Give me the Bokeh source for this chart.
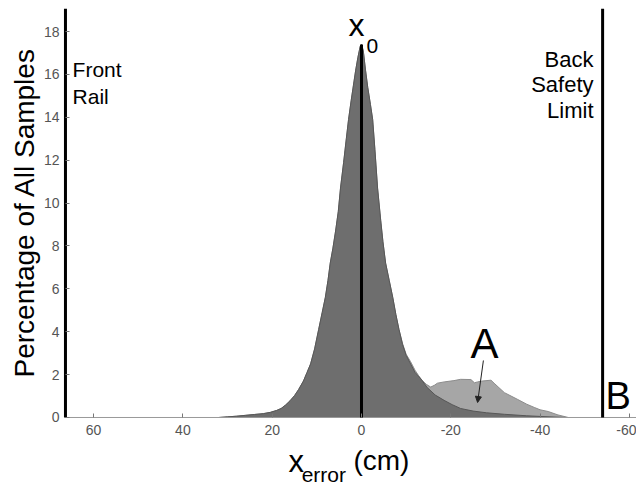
import math
from bokeh.plotting import figure
from bokeh.models import Range1d, Label, Arrow, NormalHead, FixedTicker
from bokeh.embed import file_html
from bokeh.resources import INLINE

# ---- data ----
x_dark = [32, 30, 28, 26, 24, 22, 20.4, 19, 18, 17, 16, 15, 14.1, 13, 12.2, 11.4, 10.5,
          9.6, 8.8, 8.1, 7.5, 7.0, 6.4, 5.8, 5.2, 4.7, 4.0, 3.4, 2.9, 2.3, 1.8, 1.3, 0.8,
          0.3, 0.0, -0.4, -0.9, -1.4, -2.0, -2.5, -3.0, -3.6, -4.3, -4.8, -5.4, -6.2,
          -7.0, -7.7, -8.4, -9.2, -10.0, -11.0, -12.0, -13.3, -14.7, -16.5, -18.5,
          -20.3, -22.2, -25, -28, -32, -37, -42, -46]
pct_dark = [0, 0.03, 0.06, 0.1, 0.14, 0.18, 0.24, 0.33, 0.42, 0.58, 0.78, 1.02, 1.3, 1.7,
            2.1, 2.5, 3.2, 4.1, 4.9, 5.6, 6.4, 7.2, 7.9, 8.7, 9.6, 10.7, 11.9, 13.0, 13.9,
            14.8, 15.5, 16.2, 16.8, 17.3, 17.4, 17.1, 16.2, 15.4, 14.6, 13.9, 12.5, 10.7,
            9.2, 8.2, 7.2, 6.4, 5.6, 4.8, 4.1, 3.4, 2.9, 2.5, 2.1, 1.8, 1.4, 1.05, 0.8,
            0.6, 0.42, 0.3, 0.22, 0.15, 0.08, 0.03, 0]

x_light = [32, 30, 28, 26, 24, 22, 20.4, 19, 18, 17, 16, 15, 14.1, 13, 12.2, 11.4, 10.5,
           9.6, 8.8, 8.1, 7.5, 7.0, 6.4, 5.8, 5.2, 4.7, 4.0, 3.4, 2.9, 2.3, 1.8, 1.3, 0.8,
           0.3, 0.0, -0.4, -0.9, -1.4, -2.0, -2.5, -3.0, -3.6, -4.3, -4.8, -5.4, -6.2,
           -7.0, -7.7, -8.4, -9.2, -10.0, -11.0, -12.0, -12.8, -13.5, -14.5,
           -15.5, -16.3, -17.0, -18.5, -20.7, -22.2, -24.5, -25.3, -26.0, -27.0, -29.0,
           -29.7, -31.0, -32.0, -33.5, -35.0, -37.0, -38.7, -40.0, -41.8, -44.0, -46.3]
pct_light = [0, 0.03, 0.06, 0.1, 0.14, 0.18, 0.24, 0.33, 0.42, 0.58, 0.78, 1.02, 1.3, 1.7,
             2.1, 2.5, 3.2, 4.1, 4.9, 5.6, 6.4, 7.2, 7.9, 8.7, 9.6, 10.7, 11.9, 13.0, 13.9,
             14.8, 15.5, 16.2, 16.8, 17.3, 17.4, 17.1, 16.2, 15.4, 14.6, 13.9, 12.5, 10.7,
             9.2, 8.2, 7.2, 6.4, 5.6, 4.8, 4.1, 3.45, 2.95, 2.6, 2.2, 1.95, 1.75, 1.55,
             1.42, 1.5, 1.6, 1.66, 1.72, 1.78, 1.77, 1.62, 1.66, 1.7, 1.74,
             1.6, 1.35, 1.16, 1.0, 0.84, 0.62, 0.47, 0.36, 0.28, 0.12, 0]

x_ticks = [60, 40, 20, 0, -20, -40, -60]
x_tick_labels = ["60", "40", "20", "0", "-20", "-40", "-60"]
y_ticks = [0, 2, 4, 6, 8, 10, 12, 14, 16, 18]
y_title = "Percentage of All Samples"
x_title_parts = ["x", "error", "(cm)"]

front_rail_x = 66.3
back_limit_x = -54
x0_x = 0
x0_pct = 17.4
y_top = 19.07
x_right = -61.59

FONT = "Liberation Sans"

# one frame filling the whole canvas; axes pinned at the rail / zero line
p = figure(width=636, height=487,
           x_range=Range1d(80.85, x_right), y_range=Range1d(-3.265, 19.45),
           output_backend="svg", toolbar_location=None,
           min_border_left=0, min_border_right=0, min_border_top=0,
           min_border_bottom=0)
p.outline_line_color = None
p.xgrid.visible = False
p.ygrid.visible = False
p.background_fill_color = "white"
p.border_fill_color = "white"

# distributions
p.varea(x=x_light, y1=0, y2=pct_light, fill_color="#a6a6a6")
p.line(x=x_light, y=pct_light, line_color="#8c8c8c", line_width=1)
p.varea(x=x_dark, y1=0, y2=pct_dark, fill_color="#6e6e6e")
p.line(x=x_dark, y=pct_dark, line_color="#575757", line_width=1)

# baseline (x axis line) from the rail to the right edge
p.line(x=[front_rail_x, x_right], y=[0, 0], line_color="#999999", line_width=1)

# vertical lines
p.line(x=[front_rail_x, front_rail_x], y=[0, y_top], line_color="black", line_width=3)
p.line(x=[back_limit_x, back_limit_x], y=[0, y_top], line_color="black", line_width=3)
p.line(x=[x0_x, x0_x], y=[0, x0_pct], line_color="black", line_width=3)

# axes
p.xaxis.fixed_location = 0
p.yaxis.fixed_location = front_rail_x
p.xaxis.ticker = FixedTicker(ticks=x_ticks)
p.xaxis.major_label_overrides = {t: l for t, l in zip(x_ticks, x_tick_labels)}
p.yaxis.ticker = FixedTicker(ticks=y_ticks)
for ax in (p.xaxis, p.yaxis):
    ax.axis_line_color = None
    ax.minor_tick_line_color = None
    ax.major_tick_in = 4
    ax.major_tick_out = 0
    ax.major_tick_line_color = "#777777"
    ax.major_label_text_font = FONT
    ax.major_label_text_font_size = "14px"
    ax.major_label_text_color = "#555555"
p.xaxis.major_label_standoff = 8
p.yaxis.major_label_standoff = 6


def lab(x, y, t, size, align="left", angle=0.0):
    p.add_layout(Label(x=x, y=y, text=t, text_font=FONT, text_font_size=size,
                       text_align=align, text_baseline="middle", text_color="black",
                       angle=angle))


# axis titles
lab(75.5, 9.56, y_title, "28px", "center", math.pi / 2)
lab(16.35, -2.05, x_title_parts[0], "31px")
lab(13.4, -2.68, x_title_parts[1], "21px")
lab(1.8, -2.0, x_title_parts[2], "28px")

# annotations
lab(64.7, 16.21, "Front", "21px")
lab(64.7, 14.97, "Rail", "21px")
for txt, yy in (("Back", 16.72), ("Safety", 15.51), ("Limit", 14.30)):
    lab(-51.96, yy, txt, "22px", "right")
lab(2.91, 18.3, "x", "32px")
lab(-1.12, 17.33, "0", "21px")
lab(-24.4, 3.47, "A", "42px")
lab(-54.65, 0.98, "B", "38px")
p.add_layout(Arrow(x_start=-27.3, y_start=2.66, x_end=-26.0, y_end=0.7,
                   line_color="#222222", line_width=1,
                   end=NormalHead(size=6, fill_color="#222222", line_color="#222222")))

open("out.html", "w").write(file_html(p, INLINE))
